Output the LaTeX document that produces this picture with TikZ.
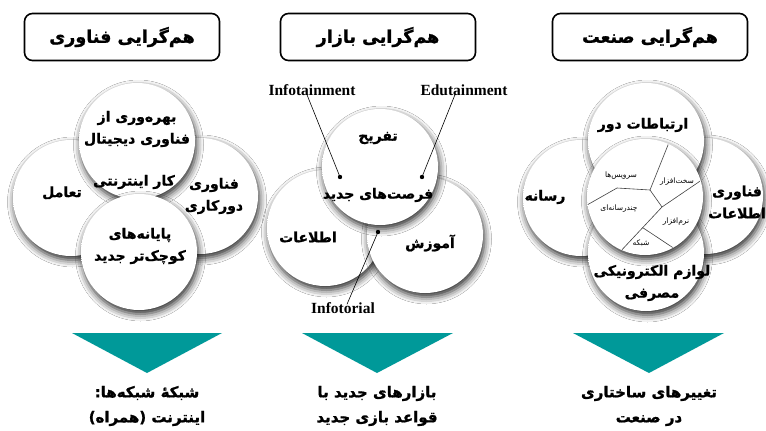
\documentclass[tikz,border=0pt]{standalone}
\usepackage{fontspec}
\setmainfont{Liberation Serif}
\newfontfamily\arabicfont[Script=Arabic, BoldFeatures={FakeBold=1.2}]{DejaVu Sans}
\TeXXeTstate=1
\usetikzlibrary{shadows.blur,calc}
\definecolor{tealtri}{RGB}{0,153,153}
\newcommand{\fa}[1]{\beginR#1\endR}
\pgfdeclareradialshading{sphere}{\pgfpoint{0bp}{7bp}}{color(0bp)=(white); color(40bp)=(white); color(48bp)=(black!13); color(53bp)=(black!38); color(58bp)=(black!45)}
\begin{document}
\begin{tikzpicture}[x=1pt,y=-1pt,
  ball/.style={circle, inner sep=0pt, minimum size=116pt, shade, shading=sphere,
    blur shadow={shadow xshift=1.5pt, shadow yshift=-4pt, shadow blur radius=7pt, shadow opacity=85}},
  titlebox/.style={draw, line width=1.6pt, rounded corners=8pt, minimum width=195pt, minimum height=47pt,
    inner sep=0pt, font=\arabicfont\bfseries\fontsize{17.5}{20}\selectfont},
  ctext/.style={font=\arabicfont\bfseries\fontsize{14}{22}\selectfont, align=center, inner sep=0pt},
  small/.style={font=\arabicfont\fontsize{7.5}{9}\selectfont, inner sep=0pt},
  bottomtext/.style={font=\arabicfont\bfseries\fontsize{15}{25}\selectfont, align=center, inner sep=0pt},
  enlabel/.style={font=\bfseries\fontsize{15.5}{17}\selectfont, inner sep=0pt},
  tri/.style={fill=tealtri},
  dot/.style={fill=black}
]
\fill[white] (0,0) rectangle (766,431);
\useasboundingbox (0,0) rectangle (766,431);

% ---------- titles
\node[titlebox] (t1) at (122,37) {\fa{هم‌گرایی فناوری}};
\node[titlebox] (t2) at (378,37) {\fa{هم‌گرایی بازار}};
\node[titlebox] (t3) at (650,37) {\fa{هم‌گرایی صنعت}};

% ---------- left panel circles
\node[ball] (Ll) at (71,198) {};
\node[ball] (Lr) at (200,196) {};
\node[ball] (Lt) at (137,141) {};
\node[ball] (Lb) at (139,252) {};

% ---------- middle panel circles
\node[ball] (Ml) at (325,228) {};
\node[ball] (Mr) at (425,235) {};
\node[ball] (Mt) at (380,167) {};

% ---------- right panel circles
\node[ball] (Rl) at (581,198) {};
\node[ball] (Rr) at (705,196) {};
\node[ball] (Rt) at (646,141) {};
\node[ball] (Rb) at (646,253) {};
\node[ball] (Rc) at (645,197) {};

% ---------- right centre circle partitions
\begin{scope}
\clip (Rc.center) circle (57.5pt);
\draw[black!75, line width=0.6pt] (672,135) -- (650,190);
\draw[black!75, line width=0.6pt] (650,190) -- (617,188) -- (580,209);
\draw[black!75, line width=0.6pt] (650,190) -- (662,207);
\draw[black!75, line width=0.6pt] (712,173) -- (662,207) -- (618,254);
\draw[black!75, line width=0.6pt] (642.5,227.5) -- (684,255);
\end{scope}

% ---------- left panel texts
\node[ctext] (lt1) at (137,129) {\fa{بهره‌وری از}\\\fa{فناوری دیجیتال}};
\node[ctext] (lc) at (134,182) {\fa{کار اینترنتی}};
\node[ctext] (ll) at (62,193) {\fa{تعامل}};
\node[ctext] (lr) at (214,196) {\fa{فناوری}\\\fa{دورکاری}};
\node[ctext] (lb) at (140,246) {\fa{پایانه‌های}\\\fa{کوچک‌تر جدید}};

% ---------- middle panel texts
\node[ctext] (mt) at (378,138) {\fa{تفریح}};
\node[ctext] (mc) at (378,195) {\fa{فرصت‌های جدید}};
\node[ctext] (ml) at (308,237) {\fa{اطلاعات}};
\node[ctext] (mr) at (430,243) {\fa{آموزش}};

\node[enlabel] (e1) at (312,90) {Infotainment};
\node[enlabel] (e2) at (464,90) {Edutainment};
\node[enlabel] (e3) at (343,308) {Infotorial};
\coordinate (d1) at (340,177);
\coordinate (d2) at (422,177);
\coordinate (d3) at (378,232);
\draw[line width=0.6pt] ($(e1.south)+(-5,-1)$) -- (d1);
\draw[line width=0.6pt] ($(e2.south)+(-9,-1)$) -- (d2);
\draw[line width=0.6pt] ($(e3.north)+(4,2)$) -- (d3);
\fill[dot] (d1) circle (2.2pt);
\fill[dot] (d2) circle (2.2pt);
\fill[dot] (d3) circle (2.2pt);

% ---------- right panel texts
\node[ctext] (rt) at (643,125) {\fa{ارتباطات دور}};
\node[ctext] (rl) at (545,197) {\fa{رسانه}};
\node[ctext] (rr) at (737,202) {\fa{فناوری}\\\fa{اطلاعات}};
\node[ctext] (rb) at (652,283) {\fa{لوازم الکترونیکی}\\\fa{مصرفی}};
\node[small] (s1) at (621,176) {\fa{سرویس‌ها}};
\node[small] (s2) at (677,182) {\fa{سخت‌افزار}};
\node[small] (s3) at (619,209) {\fa{چندرسانه‌ای}};
\node[small] (s4) at (676,222) {\fa{نرم‌افزار}};
\node[small] (s5) at (641,243) {\fa{شبکه}};

% ---------- triangles
\fill[tri] (72,333) -- (222,333) -- (147,373) -- cycle;
\fill[tri] (302,333) -- (453,333) -- (377,373) -- cycle;
\fill[tri] (573,333) -- (724,333) -- (649,373) -- cycle;

% ---------- bottom texts
\node[bottomtext] (b1) at (147,406) {\fa{شبکهٔ شبکه‌ها:}\\\fa{اینترنت (همراه)}};
\node[bottomtext] (b2) at (377,406) {\fa{بازارهای جدید با}\\\fa{قواعد بازی جدید}};
\node[bottomtext] (b3) at (649,406) {\fa{تغییرهای ساختاری}\\\fa{در صنعت}};
\end{tikzpicture}
\end{document}
